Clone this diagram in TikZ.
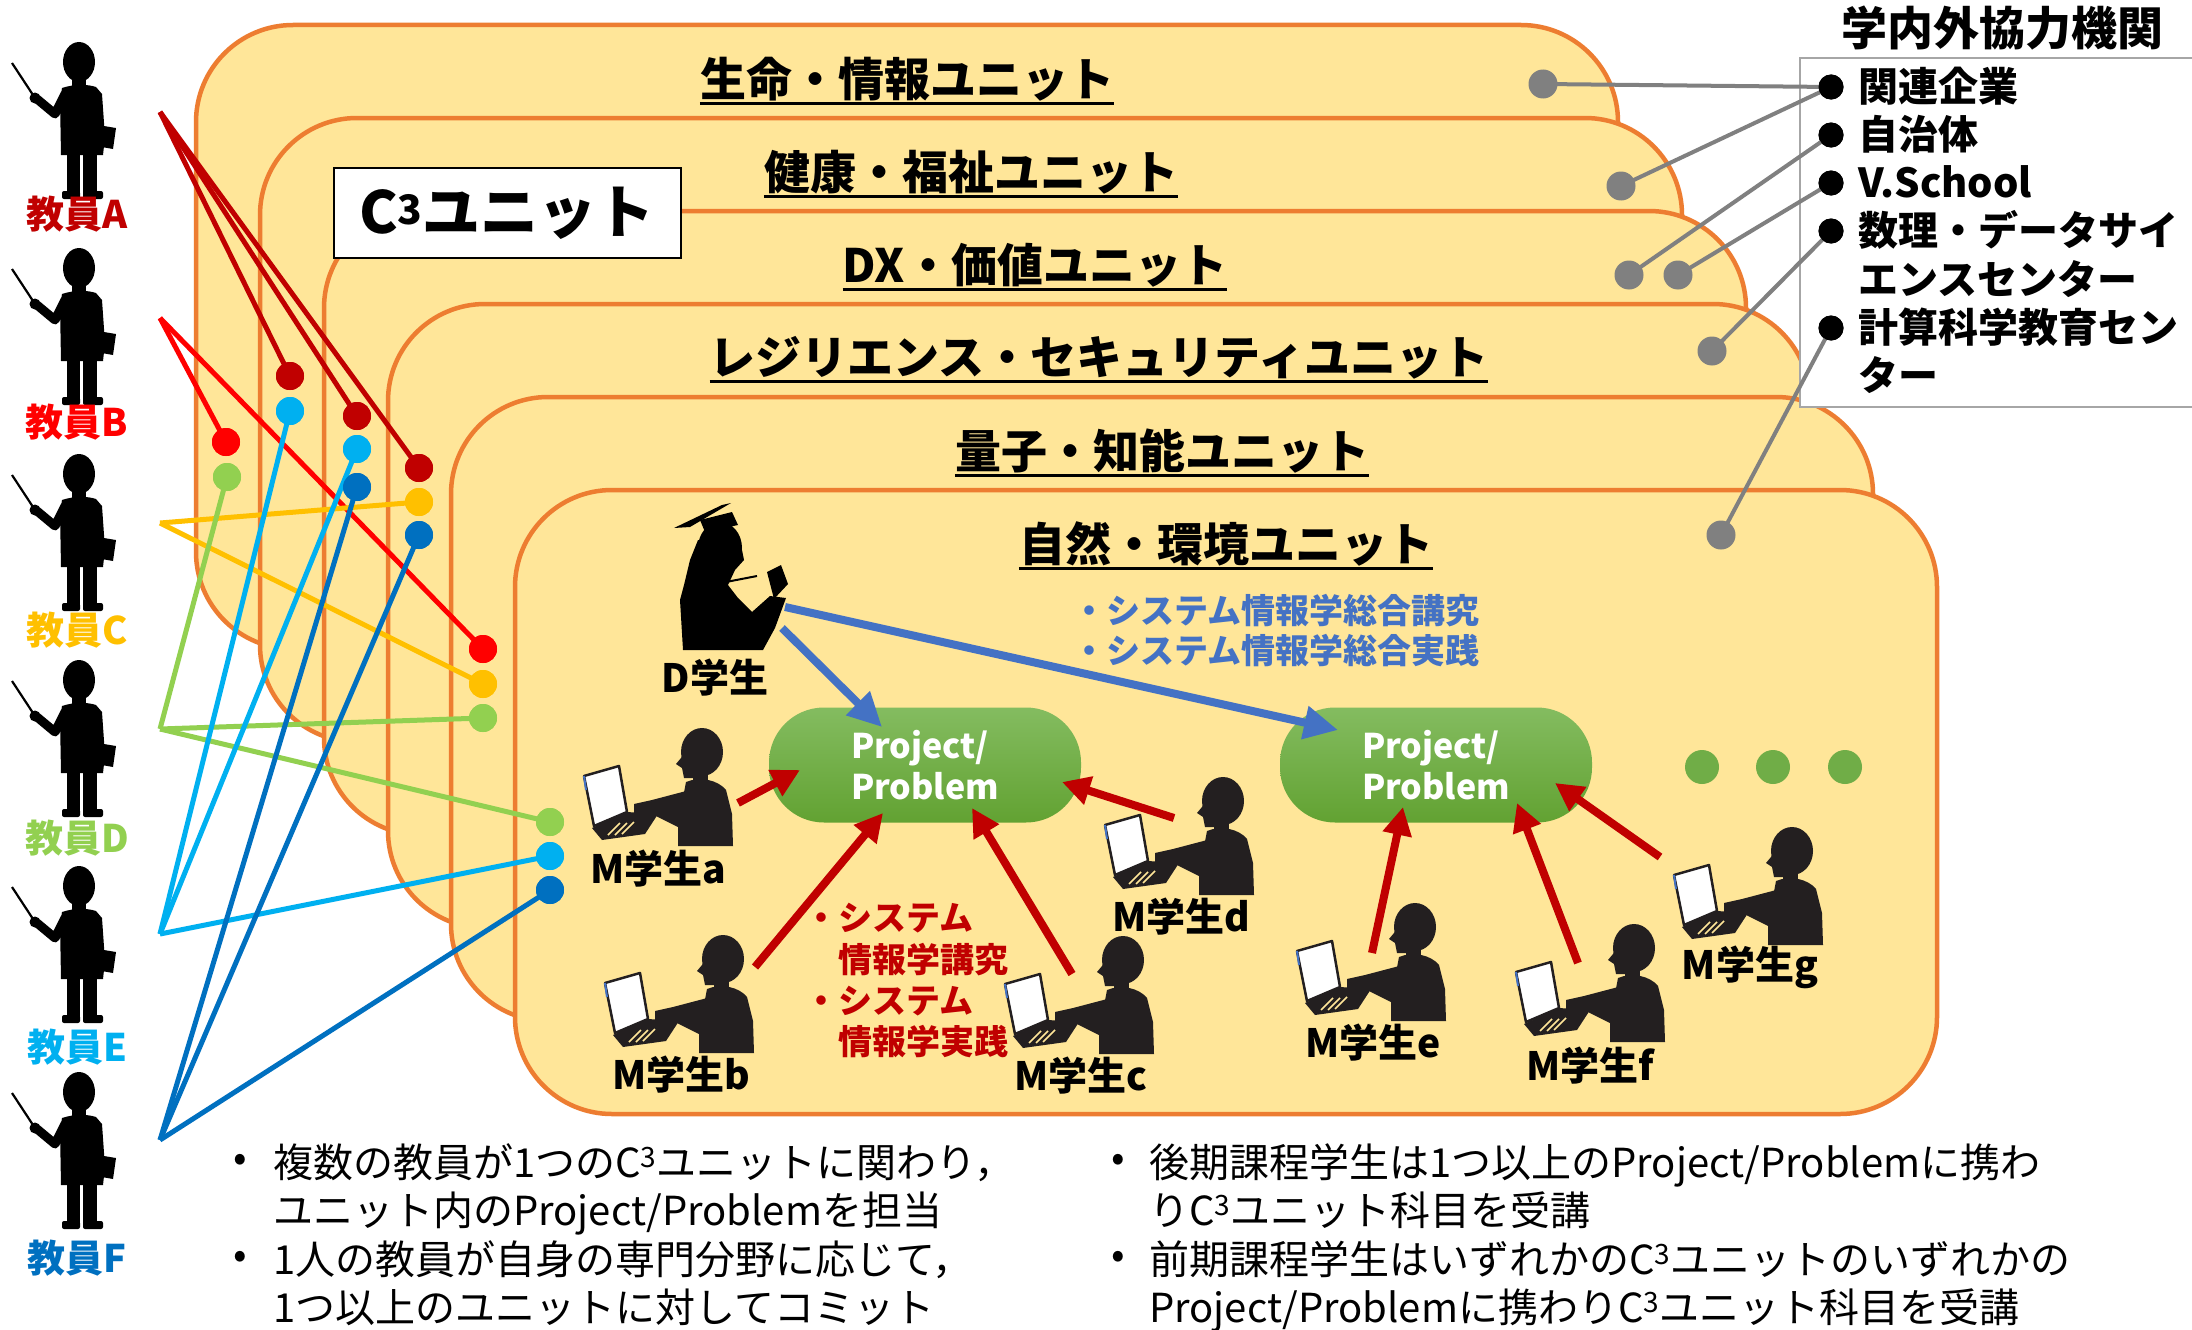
\documentclass[tikz,border=0pt]{standalone}
\usepackage{fontspec}
\setmainfont{Noto Sans CJK JP}
\usetikzlibrary{arrows.meta}
\definecolor{unitfill}{HTML}{FFE699}
\definecolor{unitline}{HTML}{ED7D31}
\definecolor{tA}{HTML}{C00000}
\definecolor{tB}{HTML}{FF0000}
\definecolor{tC}{HTML}{FFC000}
\definecolor{tD}{HTML}{92D050}
\definecolor{tE}{HTML}{00B0F0}
\definecolor{tF}{HTML}{0070C0}
\definecolor{arrowblue}{HTML}{4472C4}
\definecolor{pgreenT}{HTML}{84BC60}
\definecolor{pgreenB}{HTML}{62A232}
\definecolor{dotgreen}{HTML}{70AD47}
\definecolor{silh}{HTML}{231F20}
\definecolor{linkgray}{HTML}{808080}
\definecolor{boxgray}{HTML}{A6A6A6}
\newcommand\setfs[1]{\fontsize{#1}{#1}\selectfont}

\tikzset{
  teacher/.pic={
    \fill (0,20) ellipse [x radius=16pt, y radius=20pt];
    \fill (-7,34) rectangle (7,48);
    \fill (-17,46) .. controls (-5,42) and (8,42) .. (17,45) -- (23,52) -- (26,95) -- (24,113) -- (-18,113) -- (-19,58) -- cycle;
    \draw[line width=9pt, line join=round, line cap=round] (-14,52) -- (-24,72) -- (-42,57);
    \fill (-44,56) circle (5.5pt);
    \draw[line width=2.2pt] (-44,56) -- (-67,21);
    \fill (-12,110) rectangle (1,152);
    \fill (4,110) rectangle (18,152);
    \fill[rounded corners=2pt] (-17,149) rectangle (1,157);
    \fill[rounded corners=2pt] (4,149) rectangle (24,157);
    \fill (19,83) -- (37,86) -- (34,107) -- (17,104) -- cycle;
  },
  student/.pic={
    \filldraw[fill=white, draw=silh, line width=2.5pt, line join=round] (-116,22) -- (-81,12) -- (-73,58) -- (-106,72) -- cycle;
    \draw[arrowblue, line width=2pt] (-116,22) -- (-114,36);
    \fill[silh] (-108,74) -- (-73,58) -- (-42,60) -- (-55,80) -- (-98,86) -- cycle;
    \draw[unitfill, line width=1.5pt] (-92,81) -- (-80,69) (-85,81) -- (-73,69) (-78,80) -- (-66,68);
    \fill[silh] (-14,28) .. controls (0,22) and (18,26) .. (26,36) -- (32,60) -- (33,92) -- (-22,92) -- (-22,70) -- cycle;
    \fill[silh] (-10,36) -- (-48,46) -- (-66,50) -- (-66,62) -- (-44,62) -- (-16,76) -- cycle;
    \fill[silh] (2,-2) ellipse [x radius=21pt, y radius=24pt];
    \fill[silh] (-14,-2) -- (-24,10) -- (-18,14) -- (-16,24) -- (4,24) -- cycle;
    \fill[silh] (-7,14) rectangle (8,32);
  },
  unitbox/.style={draw=unitline, fill=unitfill, line width=4.5pt, rounded corners=97pt,
    minimum width=1422pt, minimum height=624pt, anchor=north west, inner sep=0pt, outer sep=0pt},
  utitle/.style={font=\bfseries\setfs{46}, inner sep=0pt},
  uline/.style={line width=3pt},
  tdot/.style={circle, fill=#1, minimum size=28pt, inner sep=0pt},
  tlink/.style={draw=#1, line width=5pt},
  tname/.style={font=\bfseries\setfs{38}, text=#1, inner sep=0pt},
  gdot/.style={circle, fill=linkgray, minimum size=29pt, inner sep=0pt},
  kdot/.style={circle, fill=black, minimum size=25pt, inner sep=0pt},
  glink/.style={draw=linkgray, line width=4pt},
  redarrow/.style={draw=tA, line width=8pt, -{Triangle[length=28pt,width=28pt]}},
  bluearrow/.style={draw=arrowblue, line width=8pt, -{Triangle[length=34pt,width=32pt]}},
  proj/.style={rounded corners=55pt, top color=pgreenT, bottom color=pgreenB, minimum width=312pt,
    minimum height=115pt, inner sep=0pt, align=left, text=white, font=\bfseries\fontsize{34}{41}\selectfont},
  mlabel/.style={font=\bfseries\setfs{39}, inner sep=0pt},
  item/.style={font=\bfseries\setfs{40}, anchor=base west, inner sep=0pt},
  note/.style={font=\setfs{40}, anchor=base west, inner sep=0pt},
  course/.style={font=\bfseries\setfs{34}, anchor=base west, inner sep=0pt},
}

\begin{document}
\begin{tikzpicture}[x=1pt,y=-1pt]
\useasboundingbox[fill=white] (0,0) rectangle (2192,1330);

% stacked C^3 units, back to front
\node[unitbox] (u1) at (196,25) {};
\node[utitle] (t1) at (907,79) {生命・情報ユニット};
\draw[uline] ([yshift=-2pt]t1.south west) -- ([yshift=-2pt]t1.south east);
\node[unitbox] (u2) at (260,118) {};
\node[utitle] (t2) at (971,172) {健康・福祉ユニット};
\draw[uline] ([yshift=-2pt]t2.south west) -- ([yshift=-2pt]t2.south east);
\node[unitbox] (u3) at (324,211) {};
\node[utitle] (t3) at (1035,265) {DX・価値ユニット};
\draw[uline] ([yshift=-2pt]t3.south west) -- ([yshift=-2pt]t3.south east);
\node[unitbox] (u4) at (388,304) {};
\node[utitle] (t4) at (1099,358) {レジリエンス・セキュリティユニット};
\draw[uline] ([yshift=-2pt]t4.south west) -- ([yshift=-2pt]t4.south east);
\node[unitbox] (u5) at (451,397) {};
\node[utitle] (t5) at (1162,451) {量子・知能ユニット};
\draw[uline] ([yshift=-2pt]t5.south west) -- ([yshift=-2pt]t5.south east);
\node[unitbox] (u6) at (515,490) {};
\node[utitle] (t6) at (1226,544) {自然・環境ユニット};
\draw[uline] ([yshift=-2pt]t6.south west) -- ([yshift=-2pt]t6.south east);

% unit label box
\node[draw=black, line width=2pt, fill=white, minimum width=347pt, minimum height=90pt, inner sep=0pt,
  font=\bfseries\setfs{58}] (c3) at (507,213) {C\textsuperscript{3}ユニット};

% partner institutions
\node[anchor=west, font=\bfseries\setfs{46}, inner sep=0pt] (ptitle) at (1841,28) {学内外協力機関};
\node[draw=boxgray, line width=2pt, fill=white, anchor=north west, minimum width=420pt,
  minimum height=349pt, inner sep=0pt] (ext) at (1799,57) {};
\node[kdot] (k1) at (1831,87) {};
\node[kdot] (k2) at (1831,135) {};
\node[kdot] (k3) at (1831,183) {};
\node[kdot] (k4) at (1831,231) {};
\node[kdot] (k5) at (1831,328) {};
\node[item] (i1) at (1858,101) {関連企業};
\node[item] (i2) at (1858,149) {自治体};
\node[item] (i3) at (1858,197) {V.School};
\node[item] (i4) at (1858,245) {数理・データサイ};
\node[item] (i4b) at (1858,294) {エンスセンター};
\node[item] (i5) at (1858,342) {計算科学教育セン};
\node[item] (i5b) at (1858,390) {ター};

% doctoral student
\fill[black] (674,528) -- (722,505) -- (731,503) -- (690,527) -- cycle;
\fill[black] (700,520) -- (732,512) -- (738,525) -- (705,532) -- cycle;
\fill[black] (720,548) ellipse [x radius=22pt, y radius=26pt];
\fill[black] (698,540) -- (690,560) -- (684,585) -- (680,600) -- (683,650) -- (763,650) -- (775,628)
  -- (786,598) -- (770,596) -- (752,612) -- (738,598) -- (728,585) -- (735,570) -- (744,560) -- (740,540) -- cycle;
\draw[black, line width=2pt] (726,582) -- (757,576);
\fill[black] (767,572) -- (781,565) -- (788,584) -- (774,599) -- cycle;
\node[mlabel] (Dst) at (715,678) {D学生};

% projects
\node[proj] (P1) at (925,765) {Project/\\Problem};
\node[proj] (P2) at (1436,765) {Project/\\Problem};
\node[circle, fill=dotgreen, minimum size=34pt, inner sep=0pt] (m1) at (1702,767) {};
\node[circle, fill=dotgreen, minimum size=34pt, inner sep=0pt] (m2) at (1773,767) {};
\node[circle, fill=dotgreen, minimum size=34pt, inner sep=0pt] (m3) at (1845,767) {};

% master students
\pic at (700,754) {student};  \node[mlabel] (Ma) at (658,869) {M学生a};
\pic at (721,961) {student};  \node[mlabel] (Mb) at (681,1075) {M学生b};
\pic at (1121,962) {student}; \node[mlabel] (Mc) at (1081,1076) {M学生c};
\pic at (1221,803) {student}; \node[mlabel] (Md) at (1181,917) {M学生d};
\pic at (1413,929) {student}; \node[mlabel] (Me) at (1373,1043) {M学生e};
\pic at (1632,950) {student}; \node[mlabel] (Mf) at (1590,1066) {M学生f};
\pic at (1790,853) {student}; \node[mlabel] (Mg) at (1750,967) {M学生g};

% course labels
\node[course, text=arrowblue] (bc1) at (1072,623) {・システム情報学総合講究};
\node[course, text=arrowblue] (bc2) at (1072,663) {・システム情報学総合実践};
\node[course, text=tA] (rc1) at (804,930) {・システム};
\node[course, text=tA] (rc2) at (838,972) {情報学講究};
\node[course, text=tA] (rc3) at (804,1013) {・システム};
\node[course, text=tA] (rc4) at (838,1054) {情報学実践};

% arrows to projects
\coordinate (dA) at (782,628);  \coordinate (dAh) at (882,727);
\coordinate (dB) at (785,607);  \coordinate (dBh) at (1338,730);
\draw[bluearrow] (dA) -- (dAh);
\draw[bluearrow] (dB) -- (dBh);
\coordinate (sa) at (738,803);  \coordinate (ha) at (800,770);
\coordinate (sb) at (755,967);  \coordinate (hb) at (883,813);
\coordinate (sc) at (1072,974); \coordinate (hc) at (972,808);
\coordinate (sd) at (1174,818); \coordinate (hd) at (1062,782);
\coordinate (se) at (1372,953); \coordinate (he) at (1403,807);
\coordinate (sf) at (1578,963); \coordinate (hf) at (1517,803);
\coordinate (sg) at (1660,857); \coordinate (hg) at (1555,783);
\foreach \s/\h in {sa/ha,sb/hb,sc/hc,sd/hd,se/he,sf/hf,sg/hg}
  \draw[redarrow] (\s) -- (\h);

% teachers
\pic at (79,42) {teacher};   \node[tname=tA] (nA) at (77,214) {教員A};
\pic at (79,248) {teacher};  \node[tname=tB] (nB) at (77,422) {教員B};
\pic at (79,454) {teacher};  \node[tname=tC] (nC) at (77,630) {教員C};
\pic at (79,660) {teacher};  \node[tname=tD] (nD) at (77,838) {教員D};
\pic at (79,866) {teacher};  \node[tname=tE] (nE) at (77,1047) {教員E};
\pic at (79,1072) {teacher}; \node[tname=tF] (nF) at (77,1258) {教員F};
\coordinate (oA) at (160,112);
\coordinate (oB) at (160,318);
\coordinate (oC) at (160,523);
\coordinate (oD) at (160,729);
\coordinate (oE) at (160,934);
\coordinate (oF) at (160,1140);

% teacher commitment dots
\node[tdot=tA] (a1) at (290,376) {};
\node[tdot=tA] (a2) at (357,416) {};
\node[tdot=tA] (a3) at (419,468) {};
\node[tdot=tB] (b1) at (226,442) {};
\node[tdot=tB] (b2) at (483,649) {};
\node[tdot=tC] (c1) at (419,502) {};
\node[tdot=tC] (c2) at (483,684) {};
\node[tdot=tD] (d1) at (227,477) {};
\node[tdot=tD] (d2) at (483,718) {};
\node[tdot=tD] (d3) at (550,822) {};
\node[tdot=tE] (e1) at (290,411) {};
\node[tdot=tE] (e2) at (357,449) {};
\node[tdot=tE] (e3) at (550,856) {};
\node[tdot=tF] (f1) at (357,487) {};
\node[tdot=tF] (f2) at (419,535) {};
\node[tdot=tF] (f3) at (550,890) {};
\foreach \o/\d/\c in {oA/a1/tA,oA/a2/tA,oA/a3/tA,oB/b1/tB,oB/b2/tB,oC/c1/tC,oC/c2/tC,
    oD/d1/tD,oD/d2/tD,oD/d3/tD,oE/e1/tE,oE/e2/tE,oE/e3/tE,oF/f1/tF,oF/f2/tF,oF/f3/tF}
  \draw[tlink=\c] (\o) -- (\d.center);
\foreach \d/\c in {a1/tA,a2/tA,a3/tA,b1/tB,b2/tB,c1/tC,c2/tC,d1/tD,d2/tD,d3/tD,e1/tE,e2/tE,e3/tE,f1/tF,f2/tF,f3/tF}
  \fill[\c] (\d) circle (14pt);

% partner links
\node[gdot] (g1) at (1543,84) {};
\node[gdot] (g2) at (1621,186) {};
\node[gdot] (g3) at (1629,275) {};
\node[gdot] (g4) at (1678,275) {};
\node[gdot] (g5) at (1712,351) {};
\node[gdot] (g6) at (1721,535) {};
\draw[glink] (g1.center) -- (k1.center);
\draw[glink] (g2.center) -- (k1.center);
\draw[glink] (g3.center) -- (k2.center);
\draw[glink] (g4.center) -- (k3.center);
\draw[glink] (g5.center) -- (k4.center);
\draw[glink] (g6.center) -- (k5.center);
\foreach \g in {g1,g2,g3,g4,g5,g6} \fill[linkgray] (\g) circle (14pt);
\foreach \k in {k1,k2,k3,k4,k5} \fill[black] (\k) circle (12.5pt);

% notes
\node[font=\setfs{40}, inner sep=0pt] (bu1) at (240,1163) {•};
\node[font=\setfs{40}, inner sep=0pt] (bu2) at (240,1260) {•};
\node[note] (bl1) at (273,1177) {複数の教員が1つのC\textsuperscript{3}ユニットに関わり，};
\node[note] (bl2) at (273,1225) {ユニット内のProject/Problemを担当};
\node[note] (bl3) at (273,1274) {1人の教員が自身の専門分野に応じて，};
\node[note] (bl4) at (273,1322) {1つ以上のユニットに対してコミット};
\node[font=\setfs{40}, inner sep=0pt] (bu3) at (1118,1163) {•};
\node[font=\setfs{40}, inner sep=0pt] (bu4) at (1118,1260) {•};
\node[note] (br1) at (1149,1177) {後期課程学生は1つ以上のProject/Problemに携わ};
\node[note] (br2) at (1149,1225) {りC\textsuperscript{3}ユニット科目を受講};
\node[note] (br3) at (1149,1274) {前期課程学生はいずれかのC\textsuperscript{3}ユニットのいずれかの};
\node[note] (br4) at (1149,1322) {Project/Problemに携わりC\textsuperscript{3}ユニット科目を受講};
\end{tikzpicture}
\end{document}
